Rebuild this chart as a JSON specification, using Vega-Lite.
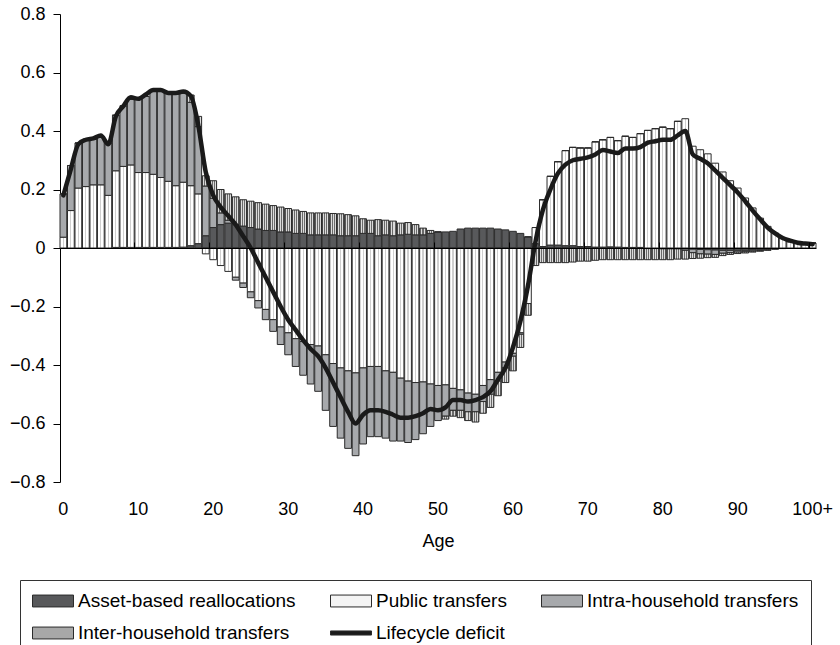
{
  "$schema": "https://vega.github.io/schema/vega-lite/v6.json",
  "width": 756,
  "height": 468,
  "autosize": "none",
  "padding": {"left": 60, "top": 14, "right": 24, "bottom": 163},
  "background": "white",
  "config": {"view": {"stroke": null}, "font": "Liberation Sans"},
  "data": {"values": [
    {"age":0,"asset":0,"public":0.037,"intra":0.148,"inter":0,"deficit":0.18},
    {"age":1,"asset":0,"public":0.128,"intra":0.154,"inter":0,"deficit":0.27},
    {"age":2,"asset":0,"public":0.205,"intra":0.154,"inter":0,"deficit":0.355},
    {"age":3,"asset":0,"public":0.21,"intra":0.16,"inter":0,"deficit":0.37},
    {"age":4,"asset":0,"public":0.216,"intra":0.156,"inter":0,"deficit":0.375},
    {"age":5,"asset":0,"public":0.216,"intra":0.165,"inter":0,"deficit":0.385},
    {"age":6,"asset":0,"public":0.18,"intra":0.179,"inter":0,"deficit":0.355},
    {"age":7,"asset":0.002,"public":0.262,"intra":0.19,"inter":0,"deficit":0.45},
    {"age":8,"asset":0.002,"public":0.277,"intra":0.207,"inter":0,"deficit":0.485},
    {"age":9,"asset":0.002,"public":0.282,"intra":0.225,"inter":0,"deficit":0.515},
    {"age":10,"asset":0.002,"public":0.256,"intra":0.25,"inter":0,"deficit":0.51},
    {"age":11,"asset":0.002,"public":0.256,"intra":0.26,"inter":0,"deficit":0.525},
    {"age":12,"asset":0.002,"public":0.25,"intra":0.287,"inter":0,"deficit":0.54},
    {"age":13,"asset":0.002,"public":0.239,"intra":0.298,"inter":0,"deficit":0.54},
    {"age":14,"asset":0.002,"public":0.226,"intra":0.304,"inter":0,"deficit":0.53},
    {"age":15,"asset":0.002,"public":0.211,"intra":0.314,"inter":0,"deficit":0.53},
    {"age":16,"asset":0.003,"public":0.222,"intra":0.305,"inter":0,"deficit":0.535},
    {"age":17,"asset":0.008,"public":0.205,"intra":0.285,"inter":0.025,"deficit":0.52},
    {"age":18,"asset":0.015,"public":0.17,"intra":0.23,"inter":0.035,"deficit":0.42},
    {"age":19,"asset":0.042,"public":-0.02,"intra":0.17,"inter":0.035,"deficit":0.26},
    {"age":20,"asset":0.07,"public":-0.04,"intra":0.1,"inter":0.06,"deficit":0.18},
    {"age":21,"asset":0.08,"public":-0.06,"intra":0.04,"inter":0.08,"deficit":0.14},
    {"age":22,"asset":0.085,"public":-0.08,"intra":0.01,"inter":0.09,"deficit":0.11},
    {"age":23,"asset":0.08,"public":-0.1,"intra":-0.01,"inter":0.095,"deficit":0.08},
    {"age":24,"asset":0.075,"public":-0.12,"intra":-0.015,"inter":0.09,"deficit":0.04},
    {"age":25,"asset":0.07,"public":-0.15,"intra":-0.02,"inter":0.09,"deficit":0.0},
    {"age":26,"asset":0.065,"public":-0.18,"intra":-0.025,"inter":0.09,"deficit":-0.05},
    {"age":27,"asset":0.06,"public":-0.21,"intra":-0.035,"inter":0.09,"deficit":-0.1},
    {"age":28,"asset":0.06,"public":-0.245,"intra":-0.04,"inter":0.085,"deficit":-0.15},
    {"age":29,"asset":0.055,"public":-0.27,"intra":-0.06,"inter":0.085,"deficit":-0.2},
    {"age":30,"asset":0.055,"public":-0.29,"intra":-0.075,"inter":0.08,"deficit":-0.245},
    {"age":31,"asset":0.05,"public":-0.31,"intra":-0.095,"inter":0.08,"deficit":-0.28},
    {"age":32,"asset":0.05,"public":-0.32,"intra":-0.115,"inter":0.075,"deficit":-0.315},
    {"age":33,"asset":0.045,"public":-0.33,"intra":-0.135,"inter":0.075,"deficit":-0.345},
    {"age":34,"asset":0.045,"public":-0.335,"intra":-0.155,"inter":0.075,"deficit":-0.37},
    {"age":35,"asset":0.045,"public":-0.365,"intra":-0.19,"inter":0.075,"deficit":-0.41},
    {"age":36,"asset":0.045,"public":-0.395,"intra":-0.215,"inter":0.073,"deficit":-0.46},
    {"age":37,"asset":0.042,"public":-0.41,"intra":-0.24,"inter":0.075,"deficit":-0.51},
    {"age":38,"asset":0.042,"public":-0.42,"intra":-0.265,"inter":0.072,"deficit":-0.56},
    {"age":39,"asset":0.042,"public":-0.427,"intra":-0.283,"inter":0.068,"deficit":-0.6},
    {"age":40,"asset":0.05,"public":-0.41,"intra":-0.26,"inter":0.05,"deficit":-0.57},
    {"age":41,"asset":0.05,"public":-0.405,"intra":-0.24,"inter":0.045,"deficit":-0.555},
    {"age":42,"asset":0.042,"public":-0.405,"intra":-0.24,"inter":0.055,"deficit":-0.555},
    {"age":43,"asset":0.045,"public":-0.42,"intra":-0.23,"inter":0.05,"deficit":-0.56},
    {"age":44,"asset":0.042,"public":-0.425,"intra":-0.235,"inter":0.05,"deficit":-0.57},
    {"age":45,"asset":0.045,"public":-0.445,"intra":-0.215,"inter":0.04,"deficit":-0.58},
    {"age":46,"asset":0.047,"public":-0.455,"intra":-0.21,"inter":0.04,"deficit":-0.58},
    {"age":47,"asset":0.045,"public":-0.46,"intra":-0.195,"inter":0.035,"deficit":-0.575},
    {"age":48,"asset":0.045,"public":-0.458,"intra":-0.177,"inter":0.023,"deficit":-0.565},
    {"age":49,"asset":0.05,"public":-0.465,"intra":-0.145,"inter":0.01,"deficit":-0.55},
    {"age":50,"asset":0.055,"public":-0.47,"intra":-0.12,"inter":0,"deficit":-0.555},
    {"age":51,"asset":0.055,"public":-0.468,"intra":-0.107,"inter":-0.01,"deficit":-0.545},
    {"age":52,"asset":0.057,"public":-0.48,"intra":-0.075,"inter":-0.02,"deficit":-0.52},
    {"age":53,"asset":0.065,"public":-0.485,"intra":-0.07,"inter":-0.025,"deficit":-0.52},
    {"age":54,"asset":0.068,"public":-0.496,"intra":-0.064,"inter":-0.03,"deficit":-0.525},
    {"age":55,"asset":0.068,"public":-0.5,"intra":-0.06,"inter":-0.035,"deficit":-0.52},
    {"age":56,"asset":0.068,"public":-0.47,"intra":-0.055,"inter":-0.04,"deficit":-0.51},
    {"age":57,"asset":0.068,"public":-0.45,"intra":-0.05,"inter":-0.045,"deficit":-0.49},
    {"age":58,"asset":0.065,"public":-0.425,"intra":-0.03,"inter":-0.05,"deficit":-0.45},
    {"age":59,"asset":0.062,"public":-0.39,"intra":-0.02,"inter":-0.05,"deficit":-0.41},
    {"age":60,"asset":0.057,"public":-0.36,"intra":-0.01,"inter":-0.05,"deficit":-0.34},
    {"age":61,"asset":0.05,"public":-0.29,"intra":-0.005,"inter":-0.045,"deficit":-0.25},
    {"age":62,"asset":0.038,"public":-0.19,"intra":0,"inter":-0.04,"deficit":-0.13},
    {"age":63,"asset":0.015,"public":0.055,"intra":0,"inter":-0.06,"deficit":0.02},
    {"age":64,"asset":0.005,"public":0.16,"intra":0,"inter":-0.05,"deficit":0.13},
    {"age":65,"asset":0.01,"public":0.235,"intra":0,"inter":-0.05,"deficit":0.2},
    {"age":66,"asset":0.01,"public":0.285,"intra":0,"inter":-0.05,"deficit":0.255},
    {"age":67,"asset":0.008,"public":0.325,"intra":0,"inter":-0.05,"deficit":0.285},
    {"age":68,"asset":0.008,"public":0.336,"intra":0,"inter":-0.048,"deficit":0.3},
    {"age":69,"asset":0.005,"public":0.337,"intra":0,"inter":-0.045,"deficit":0.305},
    {"age":70,"asset":0.005,"public":0.337,"intra":0,"inter":-0.045,"deficit":0.31},
    {"age":71,"asset":0.003,"public":0.36,"intra":0,"inter":-0.042,"deficit":0.32},
    {"age":72,"asset":0.003,"public":0.367,"intra":0,"inter":-0.04,"deficit":0.335},
    {"age":73,"asset":0.004,"public":0.374,"intra":0,"inter":-0.04,"deficit":0.33},
    {"age":74,"asset":0.003,"public":0.364,"intra":0,"inter":-0.04,"deficit":0.325},
    {"age":75,"asset":0.002,"public":0.38,"intra":0,"inter":-0.04,"deficit":0.34},
    {"age":76,"asset":0.002,"public":0.376,"intra":0,"inter":-0.04,"deficit":0.34},
    {"age":77,"asset":0.002,"public":0.389,"intra":0,"inter":-0.04,"deficit":0.345},
    {"age":78,"asset":-0.002,"public":0.402,"intra":0,"inter":-0.038,"deficit":0.36},
    {"age":79,"asset":-0.002,"public":0.408,"intra":0,"inter":-0.038,"deficit":0.365},
    {"age":80,"asset":-0.003,"public":0.413,"intra":0,"inter":-0.037,"deficit":0.37},
    {"age":81,"asset":-0.003,"public":0.408,"intra":0,"inter":-0.037,"deficit":0.37},
    {"age":82,"asset":-0.003,"public":0.433,"intra":0,"inter":-0.035,"deficit":0.385},
    {"age":83,"asset":-0.003,"public":0.442,"intra":-0.005,"inter":-0.03,"deficit":0.4},
    {"age":84,"asset":-0.004,"public":0.348,"intra":-0.012,"inter":-0.02,"deficit":0.32},
    {"age":85,"asset":-0.005,"public":0.336,"intra":-0.015,"inter":-0.015,"deficit":0.305},
    {"age":86,"asset":-0.006,"public":0.322,"intra":-0.015,"inter":-0.012,"deficit":0.29},
    {"age":87,"asset":-0.007,"public":0.29,"intra":-0.015,"inter":-0.01,"deficit":0.265},
    {"age":88,"asset":-0.008,"public":0.26,"intra":-0.01,"inter":-0.008,"deficit":0.24},
    {"age":89,"asset":-0.008,"public":0.23,"intra":-0.008,"inter":-0.006,"deficit":0.215},
    {"age":90,"asset":-0.008,"public":0.205,"intra":-0.006,"inter":-0.005,"deficit":0.19},
    {"age":91,"asset":-0.008,"public":0.171,"intra":-0.005,"inter":-0.004,"deficit":0.16},
    {"age":92,"asset":-0.007,"public":0.137,"intra":-0.004,"inter":-0.003,"deficit":0.128},
    {"age":93,"asset":-0.006,"public":0.102,"intra":-0.003,"inter":-0.002,"deficit":0.098},
    {"age":94,"asset":-0.004,"public":0.074,"intra":-0.002,"inter":-0.002,"deficit":0.07},
    {"age":95,"asset":-0.003,"public":0.05,"intra":0,"inter":-0.001,"deficit":0.05},
    {"age":96,"asset":-0.002,"public":0.033,"intra":0,"inter":0,"deficit":0.034},
    {"age":97,"asset":-0.001,"public":0.022,"intra":0,"inter":0,"deficit":0.025},
    {"age":98,"asset":-0.001,"public":0.017,"intra":0,"inter":0,"deficit":0.018},
    {"age":99,"asset":0,"public":0.015,"intra":0,"inter":0,"deficit":0.015},
    {"age":100,"asset":0,"public":0.017,"intra":0,"inter":0,"deficit":0.013}
  ]},
  "layer": [
    {
      "transform": [
        {"fold": ["asset", "public", "intra", "inter"], "as": ["key", "value"]},
        {"stack": "value", "groupby": ["age"], "as": ["v0", "v1"]}
      ],
      "mark": {"type": "bar", "stroke": "#2b2b2b", "strokeWidth": 1},
      "encoding": {
        "x": {
          "field": "age", "type": "ordinal",
          "scale": {"paddingInner": 0.1, "paddingOuter": 0},
          "axis": {
            "values": [0, 10, 20, 30, 40, 50, 60, 70, 80, 90, 100],
            "labelExpr": "datum.value == 100 ? '100+' : datum.label",
            "labelAngle": 0, "domain": false, "ticks": false,
            "labelPadding": 18, "labelFontSize": 18, "labelColor": "#000",
            "title": "Age", "titleFontSize": 18, "titleFontWeight": "normal",
            "titleColor": "#000", "titlePadding": 14
          }
        },
        "y": {
          "field": "v0", "type": "quantitative",
          "scale": {"domain": [-0.8, 0.8], "nice": false, "zero": false},
          "axis": {
            "values": [-0.8, -0.6, -0.4, -0.2, 0, 0.2, 0.4, 0.6, 0.8],
            "labelExpr": "datum.value == 0 ? '0' : replace(format(datum.value, '.1f'), '-', '–')",
            "grid": false, "title": null, "tickSize": 7, "tickColor": "#000",
            "domainColor": "#000", "labelPadding": 8, "labelFontSize": 18, "labelColor": "#000"
          }
        },
        "y2": {"field": "v1"},
        "fill": {
          "field": "key", "type": "nominal",
          "scale": {
            "domain": ["asset", "public", "intra", "inter", "deficit"],
            "range": ["#58595b", "#f4f4f4", "#a7a9ac", "#a8a8a8", "#1a1a1a"]
          },
          "condition": [
            {"test": "datum.key === 'public'", "value": {"gradient": "linear", "x1": 0, "y1": 0, "x2": 1, "y2": 0, "stops": [
              {"offset": 0, "color": "#ffffff"}, {"offset": 0.42, "color": "#ffffff"},
              {"offset": 0.42, "color": "#cfcfcf"}, {"offset": 0.58, "color": "#cfcfcf"},
              {"offset": 0.58, "color": "#ffffff"}, {"offset": 1, "color": "#ffffff"}]}},
            {"test": "datum.key === 'inter'", "value": {"gradient": "linear", "x1": 0, "y1": 0, "x2": 1, "y2": 0, "stops": [
              {"offset": 0, "color": "#6a6a6a"}, {"offset": 0.143, "color": "#6a6a6a"},
              {"offset": 0.143, "color": "#dcdcdc"}, {"offset": 0.286, "color": "#dcdcdc"},
              {"offset": 0.286, "color": "#6a6a6a"}, {"offset": 0.429, "color": "#6a6a6a"},
              {"offset": 0.429, "color": "#dcdcdc"}, {"offset": 0.571, "color": "#dcdcdc"},
              {"offset": 0.571, "color": "#6a6a6a"}, {"offset": 0.714, "color": "#6a6a6a"},
              {"offset": 0.714, "color": "#dcdcdc"}, {"offset": 0.857, "color": "#dcdcdc"},
              {"offset": 0.857, "color": "#6a6a6a"}, {"offset": 1, "color": "#6a6a6a"}]}}
          ],
          "legend": {
            "title": null, "orient": "none", "legendX": -40, "legendY": 566,
            "direction": "horizontal",
            "columns": 3, "columnPadding": 34, "rowPadding": 13,
            "clipHeight": 18, "symbolSize": 1681,
            "symbolStrokeColor": "#2b2b2b", "symbolStrokeWidth": 1,
            "labelFontSize": 19, "labelColor": "#000", "labelOffset": 4, "labelLimit": 400,
            "padding": 12, "strokeColor": "#333", "fillColor": "#fff",
            "labelExpr": "{'asset': 'Asset-based reallocations', 'public': 'Public transfers', 'intra': 'Intra-household transfers', 'inter': 'Inter-household transfers', 'deficit': 'Lifecycle deficit'}[datum.value]",
            "encode": {
              "symbols": {
                "update": {
                  "shape": [
                    {"test": "datum.value === 'deficit'", "value": "M-1,-0.1H1V0.1H-1Z"},
                    {"value": "M-1,-0.29H1V0.29H-1Z"}
                  ]
                }
              }
            }
          }
        }
      }
    },
    {
      "mark": {"type": "line", "color": "#1a1a1a", "strokeWidth": 4.5, "interpolate": "monotone", "strokeJoin": "round", "strokeCap": "round"},
      "encoding": {
        "x": {
          "field": "age", "type": "ordinal",
          "axis": {
            "values": [10, 20, 30, 40, 50, 60, 70, 80, 90, 100],
            "offset": -234, "labels": false, "title": null,
            "domain": true, "domainColor": "#000", "ticks": true, "tickColor": "#000",
            "tickSize": 6, "bandPosition": 0, "zindex": 1
          }
        },
        "y": {"field": "deficit", "type": "quantitative"}
      }
    }
  ],
  "resolve": {"axis": {"x": "independent"}}
}
